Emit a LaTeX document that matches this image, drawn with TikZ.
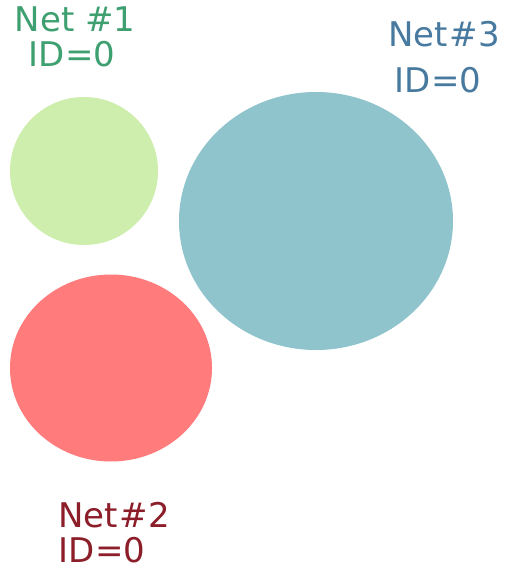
\documentclass[tikz,border=0pt]{standalone}
\usepackage{fontspec}
\setmainfont{DejaVu Sans}
\usetikzlibrary{shapes.geometric}
\definecolor{gfill}{RGB}{205,238,172}
\definecolor{rfill}{RGB}{255,123,124}
\definecolor{bfill}{RGB}{144,196,204}
\definecolor{gtext}{RGB}{62,160,112}
\definecolor{btext}{RGB}{72,122,160}
\definecolor{rtext}{RGB}{140,30,42}
\tikzset{
  blob/.style={ellipse, draw=none, inner sep=0pt},
  lbl/.style={font=\fontsize{34}{38}\selectfont, inner sep=0pt, anchor=base}
}
\begin{document}
\begin{tikzpicture}[x=1pt,y=-1pt]
\useasboundingbox[fill=white] (0,0) rectangle (506,572);
\node[blob, fill=gfill, minimum width=148pt, minimum height=148pt] (g) at (84,171) {};
\node[blob, fill=rfill, minimum width=202pt, minimum height=187pt] (r) at (111,368) {};
\node[blob, fill=bfill, minimum width=274pt, minimum height=258pt] (b) at (316,221) {};
\node[lbl, text=gtext] (n1a) at (75,32) {Net \#1};
\node[lbl, text=gtext] (n1b) at (72,67) {ID=0};
\node[lbl, text=btext] (n3a) at (444,47) {Net\hspace{2pt}\#3};
\node[lbl, text=btext] (n3b) at (438,93) {ID=0};
\node[lbl, text=rtext] (n2a) at (114,527) {Net\hspace{2pt}\#2};
\node[lbl, text=rtext] (n2b) at (102,562) {ID=0};
\end{tikzpicture}
\end{document}
